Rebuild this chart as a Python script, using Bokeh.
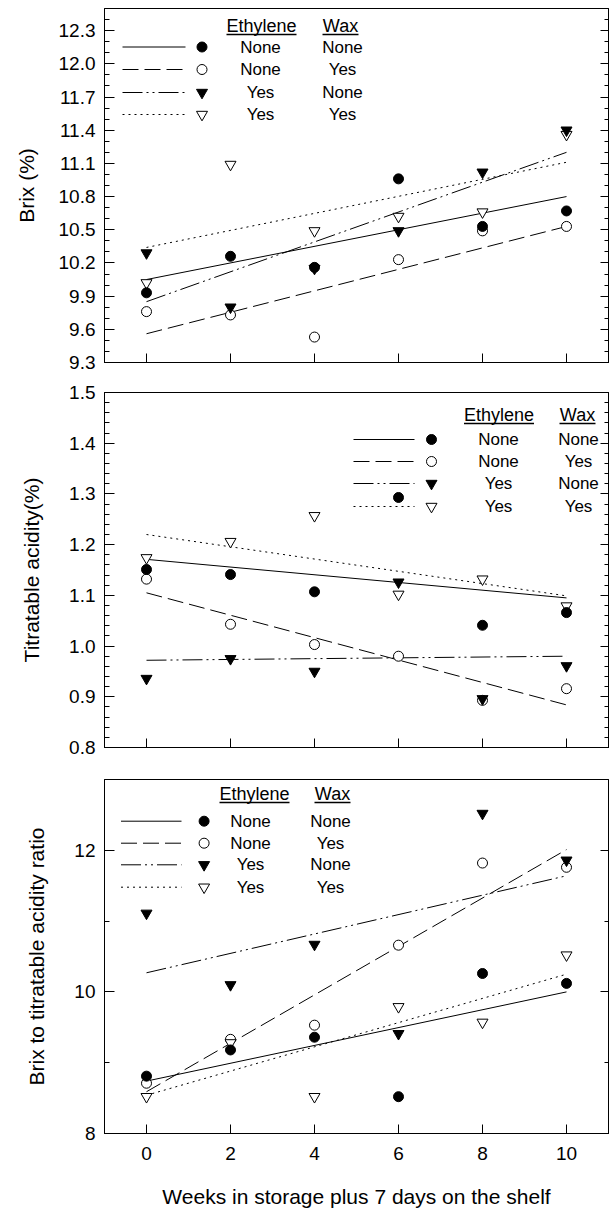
from bokeh.plotting import figure
from bokeh.layouts import column
from bokeh.models import FixedTicker, LinearAxis, Range1d
from bokeh.core.properties import value
from bokeh.embed import file_html
from bokeh.resources import INLINE

FONT = "Liberation Sans"

# ---------------- data ----------------
weeks = [0, 2, 4, 6, 8, 10]
fit_x = [0, 10]
x_ticks = [0, 2, 4, 6, 8, 10]
x_tick_labels = ["0", "2", "4", "6", "8", "10"]

ethylene_labels = ["None", "None", "Yes", "Yes"]
wax_labels = ["None", "Yes", "None", "Yes"]

# Brix (%)
brix_none_none = [9.93, 10.26, 10.16, 10.96, 10.53, 10.67]
brix_none_yes = [9.76, 9.73, 9.53, 10.23, 10.49, 10.53]
brix_yes_none = [10.29, 9.80, 10.15, 10.49, 11.02, 11.40]
brix_yes_yes = [10.02, 11.09, 10.49, 10.62, 10.66, 11.36]
brix_fit_start = [10.05, 9.56, 9.85, 10.34]
brix_fit_end = [10.80, 10.53, 11.20, 11.11]
brix_ticks = [9.3, 9.6, 9.9, 10.2, 10.5, 10.8, 11.1, 11.4, 11.7, 12.0, 12.3]
brix_tick_labels = ["9.3", "9.6", "9.9", "10.2", "10.5", "10.8", "11.1", "11.4", "11.7", "12.0", "12.3"]
brix_minor = [round(9.3 + 0.1 * i, 1) for i in range(33)]

# Titratable acidity (%)
ta_none_none = [1.151, 1.141, 1.107, 1.293, 1.041, 1.066]
ta_none_yes = [1.132, 1.043, 1.003, 0.980, 0.893, 0.916]
ta_yes_none = [0.936, 0.975, 0.950, 1.126, 0.896, 0.961]
ta_yes_yes = [1.174, 1.206, 1.257, 1.102, 1.132, 1.079]
ta_fit_start = [1.171, 1.105, 0.972, 1.220]
ta_fit_end = [1.095, 0.884, 0.980, 1.099]
ta_ticks = [0.8, 0.9, 1.0, 1.1, 1.2, 1.3, 1.4, 1.5]
ta_tick_labels = ["0.8", "0.9", "1.0", "1.1", "1.2", "1.3", "1.4", "1.5"]
ta_minor = [round(0.8 + 0.02 * i, 2) for i in range(36)]

# Brix to titratable acidity ratio
ratio_none_none = [8.81, 9.18, 9.36, 8.52, 10.26, 10.12]
ratio_none_yes = [8.71, 9.33, 9.53, 10.66, 11.82, 11.76]
ratio_yes_none = [11.11, 10.10, 10.67, 9.41, 12.52, 11.86]
ratio_yes_yes = [8.52, 9.28, 8.52, 9.79, 9.57, 10.52]
ratio_fit_start = [8.74, 8.59, 10.27, 8.54]
ratio_fit_end = [10.00, 12.01, 11.64, 10.25]
ratio_ticks = [8, 10, 12]
ratio_tick_labels = ["8", "10", "12"]
ratio_minor = [8, 9, 10, 11, 12, 13]

# ---------------- styles ----------------
STYLES = [
    dict(dash="solid", marker="circle", fill="black", size=10),
    dict(dash="16 6", marker="circle", fill="white", size=10),
    dict(dash="20 4 2 4 2 4", marker="inverted_triangle", fill="black", size=11),
    dict(dash="2 4", marker="inverted_triangle", fill="white", size=11),
]
MARKER_ORDER = [1, 3, 2, 0]

FW = 504
X_RANGE = (-1, 11)


def hidden_labels(axis):
    axis.major_label_text_font_size = "1px"
    axis.major_label_text_color = None
    axis.major_label_standoff = 0


def make_panel(series, fit_start, fit_end, y_range, yticks, ylabels, yminor,
               ylabel, ylabel_standoff, frame_h, border_top, border_bottom,
               legend, show_x=False):
    p = figure(frame_width=FW, frame_height=frame_h,
               x_range=Range1d(*X_RANGE), y_range=Range1d(*y_range),
               output_backend="svg", toolbar_location=None,
               min_border_left=104, min_border_right=8,
               min_border_top=border_top, min_border_bottom=border_bottom)
    p.grid.visible = False
    p.outline_line_color = "black"
    p.outline_line_alpha = 1.0
    p.outline_line_width = 1
    p.background_fill_color = "white"
    p.border_fill_color = "white"

    # x axis (bottom)
    xa = p.xaxis[0]
    xa.ticker = FixedTicker(ticks=x_ticks, minor_ticks=[])
    xa.major_tick_in = 9
    xa.major_tick_out = 0
    xa.minor_tick_in = 0
    xa.minor_tick_out = 0
    xa.axis_line_color = "black"
    xa.major_tick_line_color = "black"
    if show_x:
        xa.major_label_overrides = {t: l for t, l in zip(x_ticks, x_tick_labels)}
        xa.major_label_text_font = FONT
        xa.major_label_text_font_size = "19px"
        xa.major_label_text_color = "black"
        xa.major_label_standoff = 13
        xa.axis_label = "Weeks in storage plus 7 days on the shelf"
        xa.axis_label_text_font = FONT
        xa.axis_label_text_font_size = "21px"
        xa.axis_label_text_font_style = "normal"
        xa.axis_label_text_color = "black"
        xa.axis_label_standoff = 22
    else:
        hidden_labels(xa)

    # y axis (left)
    ya = p.yaxis[0]
    ya.ticker = FixedTicker(ticks=yticks, minor_ticks=yminor)
    ya.major_label_overrides = {t: l for t, l in zip(yticks, ylabels)}
    ya.major_tick_in = 10
    ya.major_tick_out = 0
    ya.minor_tick_in = 5
    ya.minor_tick_out = 0
    ya.axis_line_color = "black"
    ya.major_label_text_font = FONT
    ya.major_label_text_font_size = "19px"
    ya.major_label_text_color = "black"
    ya.major_label_standoff = 9
    ya.axis_label = ylabel
    ya.axis_label_text_font = FONT
    ya.axis_label_text_font_size = "21px"
    ya.axis_label_text_font_style = "normal"
    ya.axis_label_text_color = "black"
    ya.axis_label_standoff = ylabel_standoff

    # y axis (right, mirrored ticks)
    ra = LinearAxis(ticker=FixedTicker(ticks=yticks, minor_ticks=yminor))
    ra.major_tick_in = 8
    ra.major_tick_out = 0
    ra.minor_tick_in = 4
    ra.minor_tick_out = 0
    ra.axis_line_color = "black"
    hidden_labels(ra)
    p.add_layout(ra, "right")

    # regression lines
    for i, st in enumerate(STYLES):
        p.line(fit_x, [fit_start[i], fit_end[i]], line_color="black",
               line_width=1, line_dash=st["dash"])

    # markers
    for i in MARKER_ORDER:
        st = STYLES[i]
        p.scatter(weeks, series[i], marker=st["marker"], size=st["size"],
                  fill_color=st["fill"], line_color="black", line_width=1)

    # legend (positions given as pixel offsets inside the frame)
    x0, x1 = X_RANGE
    y0, y1 = y_range

    def X(px):
        return x0 + px * (x1 - x0) / FW

    def Y(py):
        return y1 - py * (y1 - y0) / frame_h

    hy, ehx, whx, rows, l0, l1, mx, ex, wx = legend
    p.text(x=[X(ehx), X(whx)], y=[Y(hy)] * 2, text=["Ethylene", "Wax"],
           text_font=value(FONT), text_font_size="18px", text_color="black",
           text_align="center", text_baseline="middle")
    for cx, w in [(ehx, 70), (whx, 36)]:
        p.segment(x0=[X(cx - w / 2)], y0=[Y(hy + 9)], x1=[X(cx + w / 2)],
                  y1=[Y(hy + 9)], line_color="black", line_width=1.4)
    for i, st in enumerate(STYLES):
        ry = rows[i]
        p.line([X(l0), X(l1)], [Y(ry)] * 2, line_color="black", line_width=1,
               line_dash=st["dash"])
        p.scatter([X(mx)], [Y(ry)], marker=st["marker"], size=st["size"],
                  fill_color=st["fill"], line_color="black", line_width=1)
    p.text(x=[X(ex)] * 4, y=[Y(r) for r in rows], text=ethylene_labels,
           text_font=value(FONT), text_font_size="17px", text_color="black",
           text_align="center", text_baseline="middle")
    p.text(x=[X(wx)] * 4, y=[Y(r) for r in rows], text=wax_labels,
           text_font=value(FONT), text_font_size="17px", text_color="black",
           text_align="center", text_baseline="middle")
    return p


p1 = make_panel([brix_none_none, brix_none_yes, brix_yes_none, brix_yes_yes],
                brix_fit_start, brix_fit_end, (9.3, 12.5),
                brix_ticks, brix_tick_labels, brix_minor,
                "Brix (%)", 18, 354, 8, 15,
                (17, 157, 236, [38.5, 61, 84, 106], 18, 81, 97.5, 156, 238))

p2 = make_panel([ta_none_none, ta_none_yes, ta_yes_none, ta_yes_yes],
                ta_fit_start, ta_fit_end, (0.8, 1.5),
                ta_ticks, ta_tick_labels, ta_minor,
                "Titratable acidity(%)", 23, 355, 15, 16,
                (22, 394.5, 473, [47, 69, 91, 114], 249, 310, 327, 394, 474))

p3 = make_panel([ratio_none_none, ratio_none_yes, ratio_yes_none, ratio_yes_yes],
                ratio_fit_start, ratio_fit_end, (8, 13),
                ratio_ticks, ratio_tick_labels, ratio_minor,
                "Brix to titratable acidity ratio", 23, 354, 16, 84,
                (14, 150, 228, [41.7, 63.7, 85.3, 107.7], 16.5, 77, 99.6, 146, 226),
                show_x=True)

layout = column(p1, p2, p3, spacing=0)

open("out.html", "w").write(file_html(layout, INLINE))
